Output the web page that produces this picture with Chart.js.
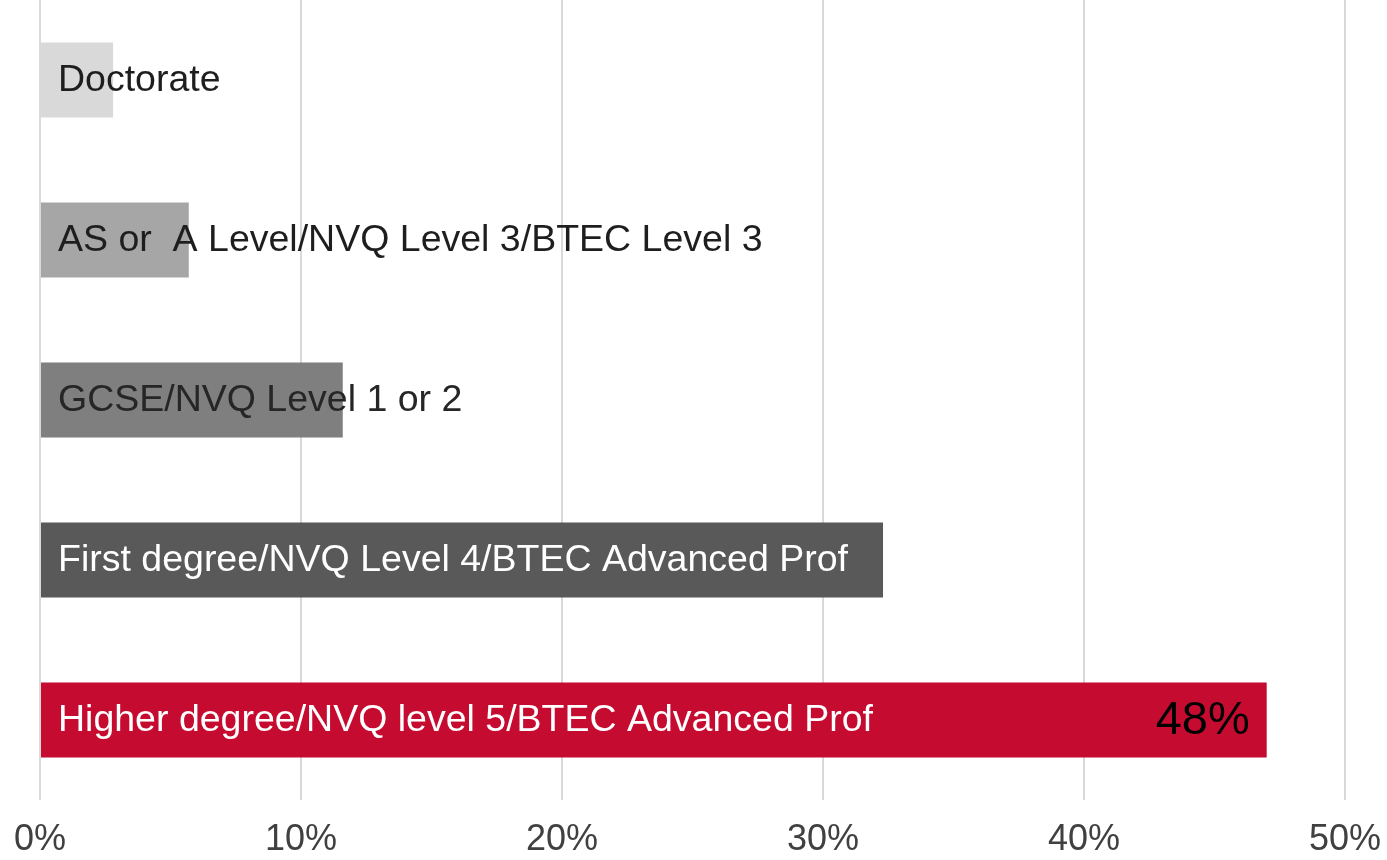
<!DOCTYPE html>
<html>
<head>
    <title>Highest qualification</title>
    <script src="https://cdn.jsdelivr.net/npm/chart.js"></script>
    <style>
        html, body {margin: 0; padding: 0; background: #fff; overflow: hidden;}
        #chart {display: block;}
    </style>
</head>
<body>
    <canvas id="chart" width="1387" height="860"></canvas>

<script>
    var categories = [
        'Doctorate',
        'AS or  A Level/NVQ Level 3/BTEC Level 3',
        'GCSE/NVQ Level 1 or 2',
        'First degree/NVQ Level 4/BTEC Advanced Prof',
        'Higher degree/NVQ level 5/BTEC Advanced Prof'
    ];
    var shares = [2.8, 5.7, 11.6, 32.3, 47.0];
    var valueLabels = ['', '', '', '', '48%'];
    var barColors = ['#d9d9d9', '#a6a6a6', '#7f7f7f', '#595959', '#c60b30'];
    var textColors = ['#1e1e1e', '#1e1e1e', '#262626', '#ffffff', '#ffffff'];
    var xTicks = [0, 10, 20, 30, 40, 50];

    // writes the category name inside each bar and the value at the end
    var barText = {
        id: 'barText',
        afterDatasetsDraw: function(chart) {
            var ctx = chart.ctx;
            var x = chart.scales.x;
            var meta = chart.getDatasetMeta(0);
            ctx.save();
            ctx.textBaseline = 'middle';
            meta.data.forEach(function(bar, i) {
                ctx.font = '37.5px "Liberation Sans", Arial, sans-serif';
                ctx.fillStyle = textColors[i];
                ctx.textAlign = 'left';
                ctx.fillText(categories[i], x.getPixelForValue(0) + 18, bar.y + 1);
                if (valueLabels[i]) {
                    ctx.font = '47px "Liberation Sans", Arial, sans-serif';
                    ctx.fillStyle = '#000';
                    ctx.textAlign = 'right';
                    ctx.fillText(valueLabels[i], bar.x - 17, bar.y + 1);
                }
            });
            ctx.restore();
        }
    };

    var ctx = document.getElementById('chart').getContext('2d');
    var chart = new Chart(ctx, {
        type: 'bar',
        data: {
            labels: categories,
            datasets: [{
                data: shares,
                backgroundColor: barColors,
                borderWidth: 0,
                barPercentage: 0.47,
                categoryPercentage: 1
            }]
        },
        options: {
            indexAxis: 'y',
            responsive: false,
            maintainAspectRatio: false,
            animation: false,
            layout: {
                padding: {left: 40, right: 42, top: 0, bottom: 0}
            },
            plugins: {
                legend: {display: false},
                title: {display: false},
                tooltip: {enabled: false}
            },
            scales: {
                x: {
                    min: 0,
                    max: 50,
                    afterBuildTicks: function(axis) {
                        axis.ticks = xTicks.map(function(v) { return {value: v}; });
                    },
                    // tick labels may hang into the side padding; fixed axis band height
                    afterFit: function(axis) {
                        axis.paddingLeft = 0;
                        axis.paddingRight = 0;
                        axis.height = 60;
                    },
                    ticks: {
                        callback: function(v) { return v + '%'; },
                        color: '#404040',
                        padding: 22,
                        maxRotation: 0,
                        font: {size: 36, lineHeight: 1, family: '"Liberation Sans", Arial, sans-serif'}
                    },
                    grid: {
                        color: '#d9d9d9',
                        lineWidth: 2,
                        drawTicks: false
                    },
                    border: {display: false}
                },
                y: {
                    display: false
                }
            }
        },
        plugins: [barText]
    });
</script>
</body>
</html>
